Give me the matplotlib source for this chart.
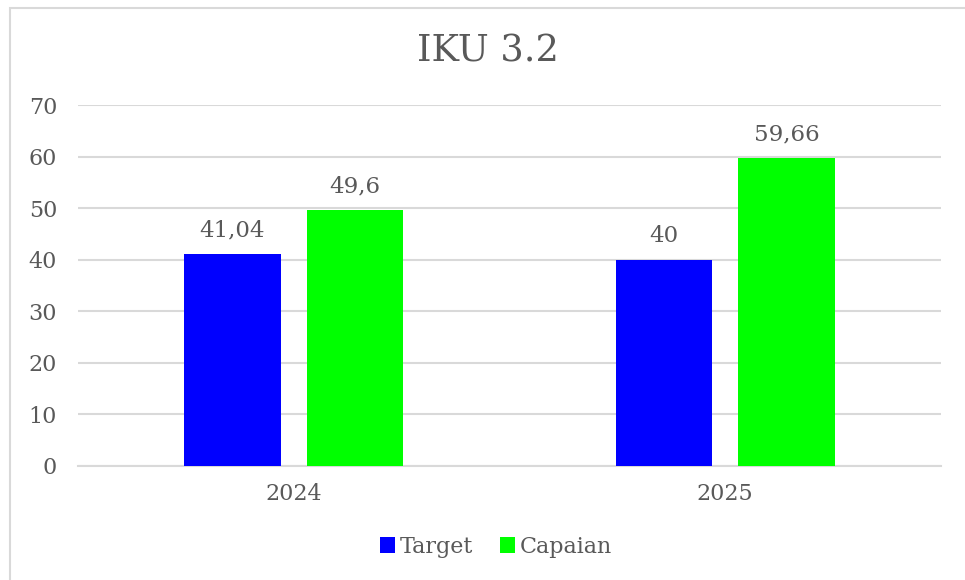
import numpy as np
import matplotlib.pyplot as plt
from matplotlib.patches import Rectangle

# data
years = ["2024", "2025"]
target = [41.04, 40]
capaian = [49.6, 59.66]
target_labels = ["41,04", "40"]
capaian_labels = ["49,6", "59,66"]

TEXT = "#595959"
GRID = "#d9d9d9"
FONT = "DejaVu Serif"

plt.rcParams['font.family'] = [FONT]

fig = plt.figure(figsize=(9.65, 5.8), dpi=100)
ax = fig.add_axes([78 / 965, 1 - 466 / 580, 863 / 965, 361 / 580])

# outer chart border (right/bottom are cut off in the reference)
fig.patches.append(Rectangle((10 / 965, -0.1), 1.2, 1 - 8 / 580 + 0.1,
                             transform=fig.transFigure, fill=False,
                             edgecolor=GRID, linewidth=1.5))

x = np.arange(len(years))
w = 0.223
off = 0.142
b1 = ax.bar(x - off, target, w, color="#0000ff", label="Target", zorder=3)
b2 = ax.bar(x + off, capaian, w, color="#00ff00", label="Capaian", zorder=3)

for bars, labels in ((b1, target_labels), (b2, capaian_labels)):
    for r, lab in zip(bars, labels):
        ax.annotate(lab, (r.get_x() + r.get_width() / 2, r.get_height()),
                    xytext=(0, 9), textcoords="offset points",
                    ha="center", va="bottom", fontsize=16.5, color=TEXT)

ax.set_xlim(-0.5, 1.5)
ax.set_ylim(0, 70)
ax.set_yticks(range(0, 71, 10))
ax.set_xticks(x)
ax.set_xticklabels(years)
ax.tick_params(axis="both", length=0, labelsize=16, colors=TEXT)
ax.tick_params(axis="y", pad=15)
ax.tick_params(axis="x", pad=12)
ax.yaxis.grid(True, color=GRID, linewidth=1.5, zorder=0)
ax.set_axisbelow(True)
for s in ["top", "right", "left"]:
    ax.spines[s].set_visible(False)
ax.spines["bottom"].set_color(GRID)
ax.spines["bottom"].set_linewidth(1.5)

fig.text(488 / 965, 1 - 52 / 580, "IKU 3.2", ha="center", va="center",
         fontsize=26.5, color=TEXT)

fig.legend(handles=[b1, b2], loc="center", bbox_to_anchor=(496 / 965, 1 - 547 / 580),
           ncol=2, frameon=False, fontsize=16, labelcolor=TEXT,
           handlelength=0.7, handleheight=0.7, handletextpad=0.2, columnspacing=1.2)

fig.savefig("out.png", dpi=100, facecolor="white")
